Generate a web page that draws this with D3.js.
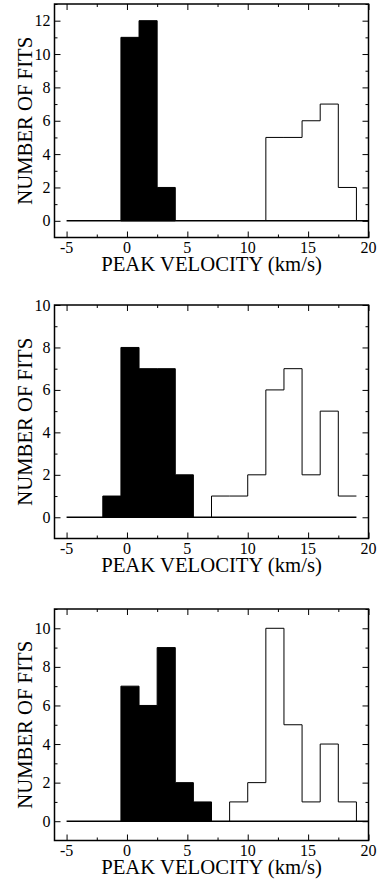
<!DOCTYPE html>
<html>
<head>
<meta charset="utf-8">
<script src="https://cdn.jsdelivr.net/npm/d3@7"></script>
</head>
<body style="margin:0">
<script>
// ---- data ----
const binLeft = [-5, -3.5, -2, -0.5, 1, 2.5, 4, 5.5, 7, 8.5, 10, 11.5, 13, 14.5, 16, 17.5];
const binWidth = 1.5;

const filled1 = [0, 0, 0, 11, 12, 2, 0, 0, 0, 0, 0, 0, 0, 0, 0, 0];
const open1   = [0, 0, 0, 0, 0, 0, 0, 0, 0, 0, 0, 5, 5, 6, 7, 2];
const filled2 = [0, 0, 1, 8, 7, 7, 2, 0, 0, 0, 0, 0, 0, 0, 0, 0];
const open2   = [0, 0, 0, 0, 0, 0, 0, 0, 1, 1, 2, 6, 7, 2, 5, 1];
const filled3 = [0, 0, 0, 7, 6, 9, 2, 1, 0, 0, 0, 0, 0, 0, 0, 0];
const open3   = [0, 0, 0, 0, 0, 0, 0, 0, 0, 1, 2, 10, 5, 1, 4, 1];

const yMax = [13, 10, 11];
const baseEnd = [20, 19, 20];
const openDrop = [true, false, true];

const majorX = [-5, 0, 5, 10, 15, 20];
const minorX = [-2.5, 2.5, 7.5, 12.5, 17.5];

const xLabel = "PEAK VELOCITY (km/s)";
const yLabel = "NUMBER OF FITS";

const panels = [
    { filled: filled1, open: open1, yMax: yMax[0], baseEnd: baseEnd[0], drop: openDrop[0], top: 4,   bottom: 237.5 },
    { filled: filled2, open: open2, yMax: yMax[1], baseEnd: baseEnd[1], drop: openDrop[1], top: 305, bottom: 538.5 },
    { filled: filled3, open: open3, yMax: yMax[2], baseEnd: baseEnd[2], drop: openDrop[2], top: 609, bottom: 840.5 }
];

// ---- layout ----
const W = 380, H = 881;
const left = 54.5, right = 368.5;
const FONT = '"Liberation Serif"';

const svg = d3.select("body").append("svg")
    .attr("width", W)
    .attr("height", H);

const x = d3.scaleLinear().domain([-6, 20]).range([left, right]);

function label(parent, txt, size) {
    return parent.append("text")
        .attr("font-family", FONT)
        .attr("font-size", size)
        .attr("fill", "#000")
        .text(txt);
}

// step outline points for the nonzero run of a histogram
function stepPoints(counts, drop) {
    const idx = counts.map((c, i) => c > 0 ? i : -1).filter(i => i >= 0);
    const first = idx[0], last = idx[idx.length - 1];
    const pts = [[binLeft[first], 0]];
    for (let i = first; i <= last; i++) {
        pts.push([binLeft[i], counts[i]]);
        pts.push([binLeft[i] + binWidth, counts[i]]);
    }
    if (drop) pts.push([binLeft[last] + binWidth, 0]);
    return pts;
}

function drawPanel(p) {
    const y = d3.scaleLinear().domain([-1, p.yMax]).range([p.bottom, p.top]);
    const g = svg.append("g");
    const line = d3.line().x(d => x(d[0])).y(d => y(d[1]));

    const majorY = d3.range(0, p.yMax + 1, 2);
    const minorY = d3.range(1, p.yMax + 1, 2);

    // filled histogram
    g.append("path")
        .attr("d", line(stepPoints(p.filled, true)) + "Z")
        .attr("fill", "#000")
        .attr("stroke", "#000")
        .attr("stroke-width", 1);

    // baseline
    g.append("line")
        .attr("x1", x(-5)).attr("x2", x(p.baseEnd))
        .attr("y1", y(0)).attr("y2", y(0))
        .attr("stroke", "#000")
        .attr("stroke-width", 1.5);

    // open histogram
    g.append("path")
        .attr("d", line(stepPoints(p.open, p.drop)))
        .attr("fill", "none")
        .attr("stroke", "#000")
        .attr("stroke-width", 1);

    // frame
    g.append("rect")
        .attr("x", left).attr("y", p.top)
        .attr("width", right - left).attr("height", p.bottom - p.top)
        .attr("fill", "none")
        .attr("stroke", "#000")
        .attr("stroke-width", 1.5);

    // inward tick marks on all four sides
    const ticks = (axis, tr, vals, size) => {
        const a = g.append("g").attr("transform", tr)
            .call(axis.tickValues(vals).tickSize(size).tickFormat(""));
        a.select(".domain").remove();
        a.selectAll(".tick text").remove();
        a.selectAll(".tick line").attr("stroke", "#000").attr("stroke-width", 1);
    };
    ticks(d3.axisBottom(x), `translate(0,${p.bottom})`, majorX, -6);
    ticks(d3.axisBottom(x), `translate(0,${p.bottom})`, minorX, -3);
    ticks(d3.axisTop(x), `translate(0,${p.top})`, majorX, -6);
    ticks(d3.axisTop(x), `translate(0,${p.top})`, minorX, -3);
    ticks(d3.axisLeft(y), `translate(${left},0)`, majorY, -6);
    ticks(d3.axisLeft(y), `translate(${left},0)`, minorY, -3);
    ticks(d3.axisRight(y), `translate(${right},0)`, majorY, -6);
    ticks(d3.axisRight(y), `translate(${right},0)`, minorY, -3);

    // tick labels
    majorX.forEach(v => {
        label(g, String(v), 16)
            .attr("x", x(v))
            .attr("y", p.bottom + 15)
            .attr("text-anchor", "middle");
    });
    majorY.forEach(v => {
        label(g, String(v), 16)
            .attr("x", left - 4)
            .attr("y", y(v) + 5.5)
            .attr("text-anchor", "end");
    });

    // axis titles
    label(g, xLabel, 20.7)
        .attr("x", (left + right) / 2)
        .attr("y", p.bottom + 33)
        .attr("text-anchor", "middle");

    label(g, yLabel, 20.7)
        .attr("transform", `translate(31.5,${(p.top + p.bottom) / 2}) rotate(-90)`)
        .attr("text-anchor", "middle");
}

panels.forEach(drawPanel);
</script>
</body>
</html>
